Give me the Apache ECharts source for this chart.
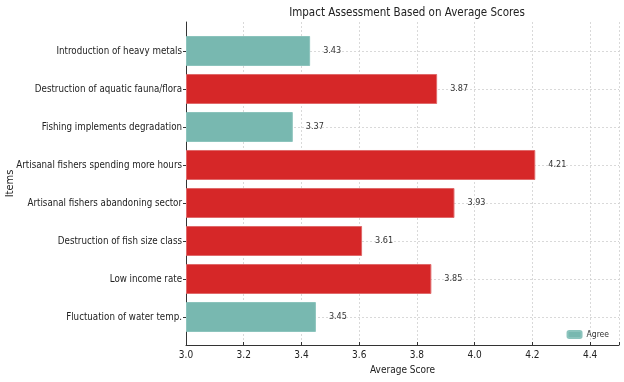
<!DOCTYPE html>
<html><head><meta charset="utf-8">
<script src="https://cdn.jsdelivr.net/npm/echarts@6/dist/echarts.min.js"></script>
<style>html,body{margin:0;padding:0;background:#fff}#c{width:624px;height:382px}</style>
</head><body><div id="c"></div>
<script>
const categories = ["Introduction of heavy metals","Destruction of aquatic fauna/flora","Fishing implements degradation","Artisanal fishers spending more hours","Artisanal fishers abandoning sector","Destruction of fish size class","Low income rate","Fluctuation of water temp."];
const scores = [3.43,3.87,3.37,4.21,3.93,3.61,3.85,3.45];
const levels = ["Agree","Strongly Agree","Agree","Strongly Agree","Strongly Agree","Strongly Agree","Strongly Agree","Agree"];
const xTicks = [3.0,3.2,3.4,3.6,3.8,4.0,4.2,4.4];

const FONT = '"DejaVu Sans Condensed","DejaVu Sans",sans-serif';
const TEAL = '#78b8b0', RED = '#d62728';
const GRIDC = '#d0d0d0';
const chart = echarts.init(document.getElementById('c'));
const lbl = {show:true, position:'right', distance:13, fontFamily:FONT, fontSize:9, color:'#333', formatter:p=>p.value==null?'':p.value.toFixed(2)};
chart.setOption({
  animation:false,
  title:{text:'Impact Assessment Based on Average Scores', left:402, top:2, textAlign:'center',
    textStyle:{fontFamily:FONT, fontWeight:'normal', fontSize:11.5, color:'#222'}},
  legend:{data:[{name:'Agree'}], right:10, top:325, itemWidth:14, itemHeight:7, itemGap:6,
    textStyle:{fontFamily:FONT, fontSize:8.5, color:'#333'}},
  grid:[
    {left:186, right:5, top:22, bottom:37, containLabel:false, outerBoundsMode:'none'},
    {left:186, right:5, top:51, bottom:65, containLabel:false, outerBoundsMode:'none'}
  ],
  xAxis:[
    {gridIndex:0, type:'value', min:3.0, max:4.5, interval:0.2,
      name:'Average Score', nameLocation:'middle', nameGap:20, nameMoveOverlap:false,
      nameTextStyle:{fontFamily:FONT, fontSize:10, color:'#222'},
      axisLine:{show:true, lineStyle:{color:'#333', width:1}},
      axisTick:{show:true, inside:true, length:3, lineStyle:{color:'#333'}},
      axisLabel:{fontFamily:FONT, fontSize:10, color:'#222', margin:5,
        formatter:v=>xTicks.some(t=>Math.abs(t-v)<1e-6)?v.toFixed(1):''},
      splitLine:{show:true, lineStyle:{color:GRIDC, type:[2,2], width:0.8}}},
    {gridIndex:1, type:'value', min:3.0, max:4.5, startValue:3.0, show:false}
  ],
  yAxis:[
    {gridIndex:0, type:'value', min:0, max:1,
      name:'Items', nameLocation:'middle', nameGap:170, nameRotate:90, nameMoveOverlap:false,
      nameTextStyle:{fontFamily:FONT, fontSize:11, color:'#222'},
      axisLine:{show:true, lineStyle:{color:'#333', width:1}},
      axisTick:{show:false}, axisLabel:{show:false}, splitLine:{show:false}},
    {gridIndex:1, type:'category', data:categories, inverse:true, boundaryGap:false,
      axisLine:{show:false},
      axisTick:{show:true, length:3, lineStyle:{color:'#333'}},
      axisLabel:{fontFamily:FONT, fontSize:9.7, color:'#222', margin:4},
      splitLine:{show:true, lineStyle:{color:GRIDC, type:[2,2], width:0.8}}}
  ],
  series:[
    {name:'Agree', type:'bar', xAxisIndex:1, yAxisIndex:1, clip:false, barWidth:'79%', barGap:'-100%',
      data:scores.map((v,i)=>levels[i]==='Agree'?v:null),
      itemStyle:{color:TEAL, borderColor:'#8cc4bd', borderWidth:1}, label:lbl},
    {name:'Strongly Agree', type:'bar', xAxisIndex:1, yAxisIndex:1, clip:false, barWidth:'79%', barGap:'-100%',
      data:scores.map((v,i)=>levels[i]!=='Agree'?v:null),
      itemStyle:{color:RED, borderColor:'#e06a6b', borderWidth:1}, label:lbl}
  ]
});
</script></body></html>
